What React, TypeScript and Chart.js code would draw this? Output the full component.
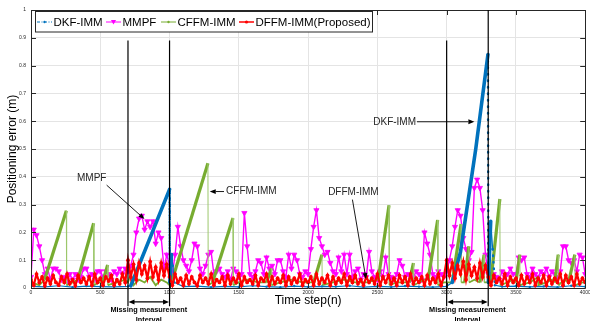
import { useEffect, useRef } from 'react';
import { Chart, registerables } from 'chart.js';

Chart.register(...registerables);

const FONT = "'Liberation Sans', Arial, Helvetica, sans-serif";
const seriesNames = ['DKF-IMM', 'MMPF', 'CFFM-IMM', 'DFFM-IMM(Proposed)'];
const seriesColors = ['#0072BD', '#FF00FF', '#77AC30', '#FF0000'];
const SAMPLE_STEP = 20; // time steps between samples of MMPF / DFFM-IMM

// DKF-IMM: (time, error)
const dkfTime = [0, 100, 200, 300, 400, 500, 600, 700, 720, 1000, 1002, 1014, 1024, 1035,
  1100, 1200, 1300, 1400, 1500, 1600, 1700, 1800, 1900, 2000, 2100, 2200, 2300, 2400, 2500,
  2600, 2700, 2800, 2900, 3000, 3040, 3100, 3210, 3298, 3301, 3318, 3332, 3348,
  3400, 3500, 3600, 3700, 3800, 3900, 4000];
const dkfErr = [0.006, 0.004, 0.008, 0.003, 0.007, 0.005, 0.004, 0.006, 0.008, 0.355, 0.02, 0.12, 0.08, 0.02,
  0.005, 0.007, 0.003, 0.006, 0.004, 0.008, 0.005, 0.003, 0.007, 0.004, 0.006, 0.005, 0.008, 0.003, 0.006,
  0.004, 0.007, 0.005, 0.003, 0.006, 0.02, 0.13, 0.5, 0.84, 0.02, 0.24, 0.14, 0.01,
  0.005, 0.007, 0.004, 0.006, 0.003, 0.008, 0.005];

// MMPF: one value every SAMPLE_STEP steps
const mmpfErr = [
  0.04, 0.21, 0.19, 0.15, 0.1, 0.05, 0.07, 0.03, 0.07, 0.07,
  0.06, 0.03, 0.04, 0.02, 0.05, 0.03, 0.05, 0.03, 0.04, 0.07,
  0.07, 0.04, 0.05, 0.03, 0.06, 0.06, 0.04, 0.06, 0.05, 0.03,
  0.06, 0.05, 0.07, 0.05, 0.07, 0.06, 0.08, 0.12, 0.2, 0.25,
  0.26, 0.21, 0.24, 0.22, 0.24, 0.16, 0.2, 0.18, 0.07, 0.12,
  0.08, 0.05, 0.12, 0.22, 0.15, 0.1, 0.08, 0.06, 0.1, 0.16,
  0.15, 0.07, 0.05, 0.08, 0.12, 0.13, 0.05, 0.06, 0.07, 0.05,
  0.04, 0.06, 0.03, 0.07, 0.06, 0.04, 0.05, 0.27, 0.15, 0.05,
  0.04, 0.06, 0.1, 0.09, 0.05, 0.11, 0.07, 0.08, 0.05, 0.1,
  0.1, 0.06, 0.04, 0.12, 0.07, 0.12, 0.1, 0.05, 0.04, 0.06,
  0.05, 0.14, 0.22, 0.28, 0.18, 0.15, 0.12, 0.13, 0.09, 0.06,
  0.05, 0.11, 0.06, 0.12, 0.05, 0.12, 0.04, 0.06, 0.07, 0.03,
  0.05, 0.04, 0.13, 0.06, 0.04, 0.03, 0.06, 0.04, 0.11, 0.05,
  0.04, 0.03, 0.05, 0.1, 0.08, 0.04, 0.05, 0.03, 0.04, 0.06,
  0.05, 0.03, 0.2, 0.16, 0.12, 0.05, 0.04, 0.06, 0.05, 0.04,
  0.06, 0.1, 0.15, 0.22, 0.28, 0.26, 0.18, 0.14, 0.1, 0.13,
  0.36, 0.39, 0.36, 0.28, 0.12, 0.05, 0.03, 0.05, 0.04, 0.03,
  0.06, 0.04, 0.05, 0.07, 0.05, 0.05, 0.11, 0.1, 0.11, 0.05,
  0.04, 0.07, 0.05, 0.04, 0.06, 0.05, 0.07, 0.04, 0.06, 0.05,
  0.04, 0.06, 0.15, 0.15, 0.1, 0.09, 0.1, 0.06, 0.12, 0.11,
  0.05];

// CFFM-IMM: (time, error) vertices of the saw-tooth curve
const cffmTime = [0, 60, 98, 255, 257, 300, 338, 452, 454, 490, 517, 553, 555, 620, 680,
  700, 720, 740, 780, 820, 860, 900, 940, 980, 1000, 1020, 1277, 1279, 1310, 1458, 1460,
  1500, 1560, 1640, 1700, 1735, 1737, 1800, 1880, 1960, 2040, 2100, 2102, 2180, 2260, 2340,
  2420, 2506, 2584, 2586, 2640, 2730, 2760, 2762, 2800, 2840, 2866, 2935, 2937, 2980,
  3040, 3104, 3106, 3130, 3160, 3162, 3200, 3240, 3270, 3272, 3300, 3318, 3384, 3386,
  3440, 3480, 3500, 3528, 3530, 3600, 3660, 3662, 3720, 3760, 3780, 3805, 3807, 3850,
  3880, 3925, 3927, 3980, 4000];
const cffmErr = [0.02, 0.01, 0.03, 0.278, 0.01, 0.02, 0.03, 0.233, 0.01, 0.02, 0.02, 0.083, 0.01, 0.02, 0.03,
  0.02, 0.05, 0.01, 0.03, 0.02, 0.04, 0.01, 0.03, 0.02, 0.01, 0.03, 0.449, 0.01, 0.02, 0.252, 0.01,
  0.02, 0.03, 0.02, 0.02, 0.07, 0.01, 0.02, 0.03, 0.02, 0.02, 0.12, 0.01, 0.02, 0.03, 0.02,
  0.02, 0.03, 0.298, 0.01, 0.02, 0.02, 0.09, 0.01, 0.02, 0.03, 0.03, 0.245, 0.01, 0.02,
  0.02, 0.23, 0.02, 0.02, 0.15, 0.02, 0.03, 0.02, 0.12, 0.02, 0.02, 0.02, 0.32, 0.01,
  0.02, 0.03, 0.02, 0.12, 0.01, 0.02, 0.04, 0.01, 0.02, 0.03, 0.02, 0.12, 0.01, 0.03,
  0.02, 0.12, 0.01, 0.02, 0.02];

// DFFM-IMM (Proposed): one value every SAMPLE_STEP steps
const dffmErr = [
  0.03, 0.01, 0.05, 0.02, 0.04, 0.008, 0.035, 0.015, 0.045, 0.02,
  0.01, 0.04, 0.02, 0.05, 0.015, 0.03, 0.008, 0.045, 0.02, 0.035,
  0.015, 0.04, 0.01, 0.05, 0.02, 0.035, 0.01, 0.04, 0.025, 0.045,
  0.01, 0.03, 0.015, 0.05, 0.02,
  0.1, 0.04, 0.085, 0.03, 0.09, 0.05, 0.08, 0.035, 0.095, 0.04, 0.075, 0.03, 0.09, 0.045, 0.085,
  0.04, 0.01, 0.05, 0.02, 0.035, 0.01, 0.045, 0.015, 0.04, 0.02,
  0.008, 0.045, 0.02, 0.035, 0.015, 0.05, 0.01, 0.03, 0.02, 0.04,
  0.01, 0.045, 0.015, 0.035, 0.02, 0.05, 0.01, 0.04, 0.02, 0.03,
  0.015, 0.045, 0.01, 0.035, 0.025, 0.05, 0.01, 0.04, 0.015, 0.035,
  0.02, 0.045, 0.01, 0.04, 0.015, 0.035, 0.02, 0.05, 0.01, 0.03,
  0.02, 0.04, 0.01, 0.05, 0.015, 0.035, 0.02, 0.045, 0.01, 0.04,
  0.015, 0.035, 0.02, 0.05, 0.01, 0.04, 0.02, 0.045, 0.015, 0.03,
  0.01, 0.04, 0.02, 0.035, 0.015, 0.05, 0.01, 0.04, 0.02, 0.045,
  0.015, 0.035, 0.01, 0.045, 0.02, 0.04, 0.01, 0.05, 0.015, 0.035,
  0.02, 0.04, 0.01, 0.045, 0.015, 0.035, 0.02, 0.05, 0.01, 0.04,
  0.1, 0.045, 0.09, 0.035, 0.08, 0.05, 0.095, 0.03, 0.085, 0.045, 0.075, 0.035, 0.09, 0.04, 0.08,
  0.04, 0.01, 0.045, 0.02, 0.035, 0.015, 0.05, 0.01, 0.04, 0.02,
  0.035, 0.01, 0.045, 0.015, 0.04, 0.02, 0.05, 0.01, 0.035, 0.02,
  0.045, 0.01, 0.04, 0.015, 0.035, 0.02, 0.05, 0.01, 0.045, 0.02,
  0.04, 0.01, 0.05, 0.015, 0.035, 0.02];

const missingIntervals = [[700, 1000], [3000, 3300]];
const missingLabel = ['Missing measurement', 'Interval'];

// text annotations: [label, time, error, align, arrow from (t,e), arrow to (t,e)]
const annotations: [string, number, number, CanvasTextAlign, number, number, number, number][] = [
  ['MMPF', 438, 0.396, 'center', 546, 0.37, 819, 0.248],
  ['CFFM-IMM', 1408, 0.347, 'left', 1393, 0.347, 1290, 0.347],
  ['DFFM-IMM', 2327, 0.343, 'center', 2320, 0.318, 2418, 0.032],
  ['DKF-IMM', 2779, 0.598, 'right', 2786, 0.598, 3200, 0.598],
];

const toPoints = (ts: number[], vs: number[]) => vs.map((v, i) => ({ x: ts[i], y: v }));
const sampled = (vs: number[]) => vs.map((v, i) => ({ x: i * SAMPLE_STEP, y: v }));

function headOnly(ctx: CanvasRenderingContext2D, x0: number, y0: number, x1: number, y1: number, len = 6, half = 2.5) {
  const a = Math.atan2(y1 - y0, x1 - x0);
  const bx = x1 - len * Math.cos(a);
  const by = y1 - len * Math.sin(a);
  ctx.beginPath();
  ctx.moveTo(x1, y1);
  ctx.lineTo(bx + half * Math.sin(a), by - half * Math.cos(a));
  ctx.lineTo(bx - half * Math.sin(a), by + half * Math.cos(a));
  ctx.closePath();
  ctx.fill();
  return [bx, by];
}

function drawArrow(ctx: CanvasRenderingContext2D, x0: number, y0: number, x1: number, y1: number) {
  const [bx, by] = headOnly(ctx, x0, y0, x1, y1, 6, 2.4);
  ctx.beginPath();
  ctx.moveTo(x0, y0);
  ctx.lineTo(bx, by);
  ctx.stroke();
}

const overlay = {
  id: 'overlay',
  afterDraw(chart: any) {
    const ctx: CanvasRenderingContext2D = chart.ctx;
    const { left, right, top, bottom } = chart.chartArea;
    const xs = chart.scales.x;
    const ys = chart.scales.y;
    ctx.save();

    // axes box and inward ticks
    ctx.strokeStyle = '#262626';
    ctx.lineWidth = 1;
    ctx.beginPath();
    ctx.rect(Math.round(left) + 0.5, Math.round(top) + 0.5, Math.round(right - left), Math.round(bottom - top));
    ctx.stroke();
    ctx.beginPath();
    xs.ticks.forEach((t: any) => {
      const px = Math.round(xs.getPixelForValue(t.value)) + 0.5;
      ctx.moveTo(px, bottom); ctx.lineTo(px, bottom - 5);
      ctx.moveTo(px, top); ctx.lineTo(px, top + 5);
    });
    ys.ticks.forEach((t: any) => {
      const py = Math.round(ys.getPixelForValue(t.value)) + 0.5;
      ctx.moveTo(left, py); ctx.lineTo(left + 5, py);
      ctx.moveTo(right, py); ctx.lineTo(right - 5, py);
    });
    ctx.stroke();

    // missing measurement intervals
    ctx.strokeStyle = '#000';
    ctx.fillStyle = '#000';
    missingIntervals.forEach(([a, b], k) => {
      const xa = xs.getPixelForValue(a);
      const xb = xs.getPixelForValue(b);
      const yEnd = ys.getPixelForValue(-0.066);
      ctx.lineWidth = 1.2;
      ctx.beginPath();
      ctx.moveTo(xa, ys.getPixelForValue(0.89)); ctx.lineTo(xa, yEnd);
      ctx.moveTo(xb, ys.getPixelForValue(k === 0 ? 0.89 : 1)); ctx.lineTo(xb, yEnd);
      ctx.stroke();
      const ya = ys.getPixelForValue(-0.05);
      ctx.lineWidth = 1.3;
      ctx.beginPath();
      ctx.moveTo(xa + 5, ya); ctx.lineTo(xb - 5, ya);
      ctx.stroke();
      headOnly(ctx, xb, ya, xa + 0.5, ya);
      headOnly(ctx, xa, ya, xb - 0.5, ya);
      const xm = xs.getPixelForValue((a + b) / 2);
      ctx.font = `bold 7.3px ${FONT}`;
      ctx.textAlign = 'center';
      ctx.textBaseline = 'middle';
      ctx.fillText(missingLabel[0], xm, ys.getPixelForValue(-0.079));
      ctx.fillText(missingLabel[1], xm, ys.getPixelForValue(-0.116));
    });

    // annotations
    ctx.font = `10px ${FONT}`;
    ctx.textBaseline = 'middle';
    annotations.forEach(([label, t, e, align, t0, e0, t1, e1]) => {
      ctx.fillStyle = '#262626';
      ctx.textAlign = align;
      ctx.fillText(label, xs.getPixelForValue(t), ys.getPixelForValue(e));
      ctx.strokeStyle = '#000';
      ctx.fillStyle = '#000';
      ctx.lineWidth = 0.9;
      drawArrow(ctx, xs.getPixelForValue(t0), ys.getPixelForValue(e0), xs.getPixelForValue(t1), ys.getPixelForValue(e1));
    });

    // legend
    const lx0 = 35.5, ly0 = 11.5, lx1 = 372.5, ly1 = 32;
    ctx.fillStyle = '#fff';
    ctx.fillRect(lx0, ly0, lx1 - lx0, ly1 - ly0);
    ctx.strokeStyle = '#262626';
    ctx.lineWidth = 1;
    ctx.strokeRect(lx0, ly0, lx1 - lx0, ly1 - ly0);
    const cy = 22;
    const sampleX = [37, 106, 161, 239];
    ctx.font = `11.5px ${FONT}`;
    ctx.textAlign = 'left';
    seriesNames.forEach((name, i) => {
      const sx = sampleX[i];
      const col = seriesColors[i];
      ctx.strokeStyle = col;
      ctx.fillStyle = col;
      ctx.lineWidth = i === 3 ? 1.5 : 1;
      ctx.setLineDash(i === 0 ? [3, 1.5, 1, 1.5] : []);
      ctx.beginPath();
      ctx.moveTo(sx, cy); ctx.lineTo(sx + 15, cy);
      ctx.stroke();
      ctx.setLineDash([]);
      const mx = sx + 7.5;
      ctx.beginPath();
      if (i === 1) {
        ctx.moveTo(mx - 2.6, cy - 2); ctx.lineTo(mx + 2.6, cy - 2); ctx.lineTo(mx, cy + 2.4); ctx.closePath();
      } else {
        ctx.arc(mx, cy, i === 3 ? 1.6 : 1.2, 0, Math.PI * 2);
      }
      ctx.fill();
      ctx.fillStyle = '#000';
      ctx.fillText(name, sx + 16.5, cy + 0.5);
    });

    // axis titles
    ctx.fillStyle = '#000';
    ctx.font = `12px ${FONT}`;
    ctx.textAlign = 'center';
    ctx.textBaseline = 'middle';
    ctx.fillText('Time step(n)', (left + right) / 2, 301);
    ctx.translate(12.5, (top + bottom) / 2);
    ctx.rotate(-Math.PI / 2);
    ctx.fillText('Positioning error (m)', 0, 0);
    ctx.restore();
  },
};

export default function App() {
  const ref = useRef<HTMLCanvasElement | null>(null);
  useEffect(() => {
    document.body.style.margin = '0';
    const canvas = ref.current;
    if (!canvas) return;
    const rise = (c: any) => c.p1.parsed.y - c.p0.parsed.y;
    const chart = new Chart(canvas, {
      type: 'line',
      data: {
        datasets: [
          {
            label: seriesNames[3],
            data: sampled(dffmErr),
            borderColor: seriesColors[3],
            backgroundColor: seriesColors[3],
            borderWidth: 2.2,
            pointRadius: 1.9,
            pointBorderWidth: 0,
            order: 0,
          },
          {
            label: seriesNames[0],
            data: toPoints(dkfTime, dkfErr),
            borderColor: seriesColors[0],
            backgroundColor: seriesColors[0],
            borderWidth: 1.2,
            borderCapStyle: 'round',
            pointRadius: 1.2,
            pointBorderWidth: 0,
            segment: {
              borderWidth: (c: any) => (rise(c) > 0.05 ? 3.6 : rise(c) < -0.1 ? 2.4 : 1.2),
              borderDash: (c: any) => (rise(c) < -0.1 ? [0.5, 6] : undefined),
            },
            order: 1,
          },
          {
            label: seriesNames[2],
            data: toPoints(cffmTime, cffmErr),
            borderColor: seriesColors[2],
            backgroundColor: seriesColors[2],
            borderWidth: 1.8,
            pointRadius: 0,
            segment: {
              borderWidth: (c: any) => (rise(c) > 0.04 ? 3.2 : rise(c) < -0.04 ? 1 : 1.8),
              borderColor: (c: any) => (rise(c) < -0.04 ? '#9cc76c' : seriesColors[2]),
            },
            order: 2,
          },
          {
            label: seriesNames[1],
            data: sampled(mmpfErr),
            borderColor: seriesColors[1],
            backgroundColor: seriesColors[1],
            borderWidth: 1.4,
            pointStyle: 'triangle',
            rotation: 180,
            pointRadius: 3,
            pointBorderWidth: 0.8,
            order: 3,
          },
        ] as any,
      },
      options: {
        responsive: false,
        animation: false,
        devicePixelRatio: 1,
        layout: { padding: { top: 10, right: 2, left: 0, bottom: 0 } },
        plugins: { legend: { display: false }, tooltip: { enabled: false } },
        elements: { line: { tension: 0 } },
        scales: {
          x: {
            type: 'linear',
            min: 0,
            max: 4000,
            ticks: {
              stepSize: 500,
              autoSkip: false,
              maxRotation: 0,
              padding: 2,
              color: '#262626',
              font: { size: 5, family: FONT },
              callback: (v: any) => String(v),
            },
            grid: { color: '#e4e4e4', drawTicks: false },
            border: { display: false },
            afterFit: (s: any) => { s.height = 33; s.paddingLeft = 0; s.paddingRight = 0; },
          },
          y: {
            type: 'linear',
            min: 0,
            max: 1,
            ticks: {
              stepSize: 0.1,
              padding: 5,
              color: '#262626',
              font: { size: 5, family: FONT },
              callback: (v: any) => String(Math.round(Number(v) * 10) / 10),
            },
            grid: { color: '#e4e4e4', drawTicks: false },
            border: { display: false },
            afterFit: (s: any) => { s.width = 31; s.paddingTop = 0; s.paddingBottom = 0; },
          },
        },
      } as any,
      plugins: [overlay],
    });
    return () => chart.destroy();
  }, []);
  return (
    <div style={{ position: 'absolute', left: 0, top: 0, width: 590, height: 321, background: '#fff' }}>
      <canvas ref={ref} width={590} height={321} />
    </div>
  );
}
